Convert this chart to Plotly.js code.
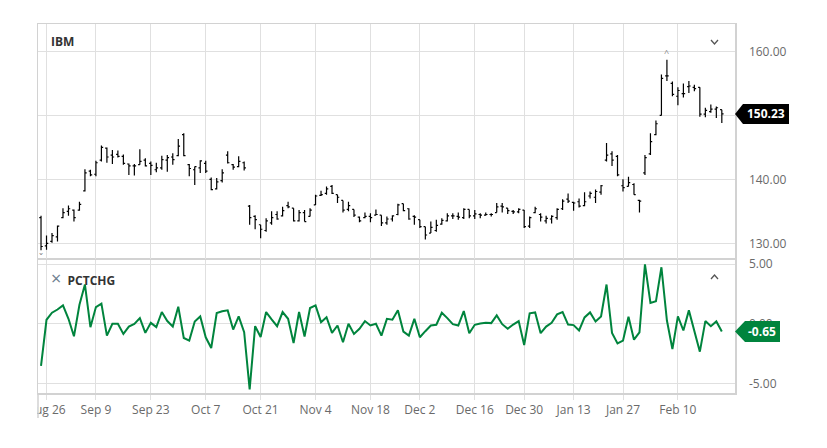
<!DOCTYPE html>
<html>
<head>
<meta charset="utf-8">
<script src="https://cdn.plot.ly/plotly-3.0.1.min.js"></script>
<style>html,body{margin:0;padding:0;background:#fff}#chart{width:827px;height:448px}</style>
</head>
<body>
<div id="chart"></div>
<script>
// ---- data (IBM daily bars, Aug 23 2019 - Feb 21 2020) ----
const dates = [
'2019-08-23','2019-08-26','2019-08-27','2019-08-28','2019-08-29','2019-08-30','2019-09-03','2019-09-04','2019-09-05','2019-09-06',
'2019-09-09','2019-09-10','2019-09-11','2019-09-12','2019-09-13','2019-09-16','2019-09-17','2019-09-18','2019-09-19','2019-09-20',
'2019-09-23','2019-09-24','2019-09-25','2019-09-26','2019-09-27','2019-09-30','2019-10-01','2019-10-02','2019-10-03','2019-10-04',
'2019-10-07','2019-10-08','2019-10-09','2019-10-10','2019-10-11','2019-10-14','2019-10-15','2019-10-16','2019-10-17','2019-10-18',
'2019-10-21','2019-10-22','2019-10-23','2019-10-24','2019-10-25','2019-10-28','2019-10-29','2019-10-30','2019-10-31','2019-11-01',
'2019-11-04','2019-11-05','2019-11-06','2019-11-07','2019-11-08','2019-11-11','2019-11-12','2019-11-13','2019-11-14','2019-11-15',
'2019-11-18','2019-11-19','2019-11-20','2019-11-21','2019-11-22','2019-11-25','2019-11-26','2019-11-27','2019-11-29','2019-12-02',
'2019-12-03','2019-12-04','2019-12-05','2019-12-06','2019-12-09','2019-12-10','2019-12-11','2019-12-12','2019-12-13','2019-12-16',
'2019-12-17','2019-12-18','2019-12-19','2019-12-20','2019-12-23','2019-12-24','2019-12-26','2019-12-27','2019-12-30','2019-12-31',
'2020-01-02','2020-01-03','2020-01-06','2020-01-07','2020-01-08','2020-01-09','2020-01-10','2020-01-13','2020-01-14','2020-01-15',
'2020-01-16','2020-01-17','2020-01-21','2020-01-22','2020-01-23','2020-01-24','2020-01-27','2020-01-28','2020-01-29','2020-01-30',
'2020-01-31','2020-02-03','2020-02-04','2020-02-05','2020-02-06','2020-02-07','2020-02-10','2020-02-11','2020-02-12','2020-02-13',
'2020-02-14','2020-02-18','2020-02-19','2020-02-20','2020-02-21'];

const openP = [
134.0,129.6,130.3,131.0,134.0,135.0,135.2,135.2,138.2,141.3,
140.8,143.0,144.9,143.8,143.9,143.6,142.4,142.1,142.3,143.0,
142.5,141.5,141.8,143.0,143.5,143.7,147.0,142.3,141.5,141.8,
142.5,140.0,138.5,139.8,143.8,142.3,142.0,142.6,135.8,134.2,
132.9,132.0,133.2,134.5,134.3,135.9,135.5,133.5,134.8,134.2,
136.0,137.5,137.8,138.9,137.6,136.7,135.3,135.3,134.1,134.0,
134.2,134.4,134.4,133.2,133.8,134.5,136.2,135.4,134.2,133.7,
132.6,131.6,132.0,133.0,133.5,134.3,134.2,134.0,135.3,134.3,
134.5,134.4,134.5,134.8,135.8,135.5,135.0,134.9,135.2,132.7,
134.8,134.5,133.5,133.8,134.0,135.4,136.9,136.4,136.5,135.9,
137.4,137.2,138.0,143.0,144.0,143.6,139.0,138.9,139.2,136.7,
141.0,144.0,147.0,150.0,156.2,155.0,153.0,153.4,154.5,154.4,
154.4,150.2,150.6,151.0,150.9];

const highP = [
134.3,131.2,131.6,132.8,135.5,135.9,135.3,136.5,141.6,141.5,
142.9,145.3,145.0,144.6,144.5,143.9,142.5,142.4,144.7,143.3,
142.8,142.6,143.7,143.8,144.1,146.3,147.2,142.4,142.0,143.0,
142.9,140.3,140.2,141.6,144.4,142.4,143.6,142.8,136.0,134.4,
132.9,133.9,135.0,135.0,135.7,136.5,135.5,135.2,135.2,135.5,
137.6,138.2,138.9,139.1,137.6,136.7,136.5,135.3,134.2,134.8,
134.7,135.3,134.4,134.2,134.4,136.2,136.2,135.5,134.4,133.7,
132.6,133.4,133.7,133.9,134.7,134.7,134.8,135.5,135.3,135.2,
134.7,134.8,134.7,136.3,136.3,135.5,135.2,135.5,135.2,134.2,
135.7,134.7,134.3,134.4,135.5,136.9,137.8,136.5,137.0,138.0,
138.1,138.4,139.1,145.7,144.4,143.8,140.0,140.4,139.4,136.8,
143.8,147.2,149.2,156.4,158.7,155.3,154.4,155.0,155.4,154.8,
154.4,151.2,151.7,151.4,150.9];

const lowP = [
128.9,129.0,130.1,130.3,133.9,134.3,133.4,135.1,138.1,140.5,
140.5,142.8,142.6,142.4,143.4,142.3,140.7,140.6,142.3,142.0,
140.7,141.1,141.5,141.2,142.3,143.6,143.6,140.5,139.1,141.0,
141.0,138.3,138.4,139.5,142.5,141.5,141.9,141.4,132.9,132.2,
130.8,131.8,132.9,133.7,134.2,135.5,133.4,133.4,133.4,134.2,
136.0,137.4,137.6,137.7,136.3,134.8,135.0,134.1,133.3,133.9,
133.3,134.4,132.7,132.9,133.4,134.4,135.0,133.7,132.9,132.4,
130.6,131.6,131.8,132.9,133.4,133.8,133.7,133.8,133.9,133.8,
133.9,134.3,134.2,134.8,134.8,134.6,134.6,134.7,132.4,132.4,
134.7,133.4,133.1,133.1,133.7,135.2,136.3,135.1,135.6,135.8,
137.0,136.3,137.6,142.8,142.1,140.5,138.1,138.9,137.6,134.8,
140.7,143.8,146.9,150.0,155.4,153.0,151.6,152.8,153.5,153.8,
149.8,149.7,150.4,149.6,148.8];

const closeP = [
129.5,130.0,131.2,132.7,134.8,135.4,134.0,136.1,141.0,140.7,
142.6,145.0,143.5,143.5,143.6,142.5,142.1,142.1,142.8,142.1,
142.2,141.8,143.1,143.4,143.1,145.2,143.7,141.7,142.0,142.9,
141.3,138.4,139.6,141.0,142.6,141.9,142.8,141.8,134.0,133.7,
132.2,133.5,134.0,133.8,135.1,135.7,133.5,134.8,133.4,135.2,
137.4,137.6,138.5,137.8,137.2,135.2,135.9,134.4,133.5,134.2,
134.0,134.5,133.2,133.8,134.3,136.0,135.1,133.8,134.1,132.6,
131.3,132.5,132.8,133.6,134.3,134.3,134.1,135.3,134.3,134.6,
134.4,134.5,134.5,135.7,135.7,135.1,134.9,135.3,132.6,134.0,
135.4,134.1,133.9,134.2,135.3,136.6,136.6,136.3,135.8,136.5,
137.8,138.1,139.0,143.8,143.0,140.7,138.7,139.5,137.6,136.6,
143.4,145.9,148.7,155.8,156.2,153.3,153.9,153.4,154.6,154.2,
150.2,150.8,151.0,151.2,150.23];

const pctChg = [
-3.53,0.34,0.93,1.2,1.55,0.42,-1.05,1.6,3.3,-0.28,
1.41,1.7,-0.99,0,0,-0.85,-0.23,0,0.48,-0.76,
0.08,-0.28,0.99,0.23,-0.23,1.44,-1.19,-1.41,0.2,0.62,
-1.13,-2.03,0.9,1.05,1.13,-0.48,0.62,-0.71,-5.5,-0.2,
-1.1,0.99,0.37,-0.2,0.99,0.42,-1.61,0.99,-1.07,1.33,
1.55,0.14,0.56,-0.76,-0.14,-1.55,0,-0.85,-0.42,0.23,
-0.14,0,-0.99,0.42,0.34,1.13,-0.65,-0.99,0.42,-1.13,
-0.62,-0.14,-0.08,0.93,0.48,-0.03,-0.14,1.07,-0.79,-0.08,
0.03,0.08,0.06,0.71,-0.03,-0.42,-0.06,0.23,-1.78,0.88,
0.96,-0.79,-0.23,0.08,0.79,0.99,-0.06,-0.11,-0.56,0.54,
0.96,0.2,0.62,3.3,-0.76,-1.64,-1.41,0.59,-1.33,-0.71,
5.0,1.75,1.89,4.75,0.28,-2.12,0.62,-0.56,1.13,-0.56,
-2.34,0.23,-0.2,0.2,-0.65];

const tickDates  = ['2019-08-26','2019-09-09','2019-09-23','2019-10-07','2019-10-21','2019-11-04','2019-11-18','2019-12-02','2019-12-16','2019-12-30','2020-01-13','2020-01-27','2020-02-10'];
const tickLabels = ['Aug 26','Sep 9','Sep 23','Oct 7','Oct 21','Nov 4','Nov 18','Dec 2','Dec 16','Dec 30','Jan 13','Jan 27','Feb 10'];
const priceTicks = [130, 140, 150, 160];
const priceTickText = ['130.00', '140.00', '', '160.00'];   // 150.00 sits under the price tag
const pctTicks = [-5, 0, 5];
const pctTickText = ['-5.00', '0.00', '5.00'];
const symbol = 'IBM';
const studyName = 'PCTCHG';

// ---- layout helpers ----
const W = 827, H = 448, ML = 38, MR = 92, MT = 24, MB = 55;
const PW = W - ML - MR, PH = H - MT - MB;
const px = x => (x - ML) / PW;
const py = y => (H - MB - y) / PH;

const GREEN = '#00843d';
const GRID = '#e0e0e0';
const BORDER = '#d2d2d2';
const FONT = '"Open Sans", "Noto Sans", sans-serif';

const n = dates.length;
const lastClose = closeP[n - 1];
const lastPct = pctChg[n - 1];
let iMax = 0, iMin = 0;
for (let i = 1; i < n; i++) {
  if (highP[i] > highP[iMax]) iMax = i;
  if (lowP[i] < lowP[iMin]) iMin = i;
}

const traces = [
  {
    type: 'ohlc', x: dates, open: openP, high: highP, low: lowP, close: closeP,
    xaxis: 'x', yaxis: 'y',
    increasing: {line: {color: '#000', width: 1.2}},
    decreasing: {line: {color: '#000', width: 1.2}},
    tickwidth: 0.32, hoverinfo: 'skip', showlegend: false
  },
  {
    type: 'scatter', mode: 'lines', x: dates, y: pctChg,
    xaxis: 'x', yaxis: 'y2',
    line: {color: GREEN, width: 2}, hoverinfo: 'skip', showlegend: false
  }
];

const yDomTop = [py(258), 1];
const yDomBot = [0, py(260)];

const layout = {
  width: W, height: H,
  margin: {l: ML, r: MR, t: MT, b: MB, pad: 0},
  paper_bgcolor: '#fff', plot_bgcolor: '#fff',
  font: {family: FONT, size: 12, color: '#666'},
  showlegend: false,
  xaxis: {
    type: 'category', anchor: 'y2',
    range: [-0.55, 126.4],
    tickmode: 'array', tickvals: tickDates, ticktext: tickLabels,
    showgrid: true, gridcolor: GRID, gridwidth: 1,
    ticks: 'outside', ticklen: 5, tickcolor: GRID, tickwidth: 1,
    showline: true, linecolor: BORDER, linewidth: 1.5, mirror: 'all',
    zeroline: false, rangeslider: {visible: false},
    tickfont: {family: FONT, size: 12, color: '#6a6a6a'}
  },
  yaxis: {
    domain: yDomTop, side: 'right', range: [127.7, 164.3],
    tickmode: 'array', tickvals: priceTicks, ticktext: priceTickText,
    showgrid: true, gridcolor: GRID, gridwidth: 1.3,
    ticks: '', ticklabelstandoff: 10,
    showline: true, linecolor: BORDER, linewidth: 1.5, mirror: true,
    zeroline: false,
    tickfont: {family: FONT, size: 12, color: '#6a6a6a'}
  },
  yaxis2: {
    domain: yDomBot, side: 'right', range: [-5.81, 5.36],
    tickmode: 'array', tickvals: pctTicks, ticktext: pctTickText,
    showgrid: true, gridcolor: GRID, gridwidth: 1.3,
    ticks: '', ticklabelstandoff: 10,
    showline: true, linecolor: BORDER, linewidth: 1.5, mirror: true,
    zeroline: false,
    tickfont: {family: FONT, size: 12, color: '#6a6a6a'}
  },
  shapes: [
    // clip of the first date label at the plot's left edge
    {type: 'rect', xref: 'paper', yref: 'paper', x0: px(0), x1: px(37.2), y0: py(440), y1: py(394),
     fillcolor: '#fff', line: {width: 0}, layer: 'above'},
    // left border running down past the labels
    {type: 'line', xref: 'paper', yref: 'paper', x0: px(38), x1: px(38), y0: py(393), y1: py(418),
     line: {color: BORDER, width: 1.5}, layer: 'above'},
    // last price tag
    {type: 'path', xref: 'paper', yref: 'y', xsizemode: 'pixel', ysizemode: 'pixel',
     xanchor: 1, yanchor: lastClose,
     path: 'M0,0 L8,10 L54,10 L54,-10 L8,-10 Z',
     fillcolor: '#000', line: {width: 0}, layer: 'above'},
    // last pct tag
    {type: 'path', xref: 'paper', yref: 'y2', xsizemode: 'pixel', ysizemode: 'pixel',
     xanchor: 1, yanchor: lastPct,
     path: 'M0,0 L10,10.5 L45,10.5 L45,-10.5 L10,-10.5 Z',
     fillcolor: GREEN, line: {width: 0}, layer: 'above'},
    // panel chevrons
    {type: 'path', xref: 'paper', yref: 'paper', xsizemode: 'pixel', ysizemode: 'pixel',
     xanchor: px(714.5), yanchor: py(42),
     path: 'M-3.5,2 L0,-2 L3.5,2', line: {color: '#555', width: 1.3}, layer: 'above'},
    {type: 'path', xref: 'paper', yref: 'paper', xsizemode: 'pixel', ysizemode: 'pixel',
     xanchor: px(714.5), yanchor: py(277),
     path: 'M-3.5,-2 L0,2 L3.5,-2', line: {color: '#555', width: 1.3}, layer: 'above'}
  ],
  annotations: [
    {xref: 'paper', yref: 'paper', x: 0, y: 1, xanchor: 'left', yanchor: 'top', xshift: 11, yshift: -7,
     text: '<b>' + symbol + '</b>', showarrow: false, font: {family: FONT, size: 12, color: '#333'}},
    {xref: 'paper', yref: 'paper', x: 0, y: yDomBot[1], xanchor: 'left', yanchor: 'top', xshift: 11, yshift: -4,
     text: '<span style="color:#6e7f90;font-size:18px">×</span>  <b>' + studyName + '</b>', showarrow: false,
     font: {family: FONT, size: 12, color: '#333'}},
    {xref: 'paper', yref: 'y', x: 1, y: lastClose, xanchor: 'left', yanchor: 'middle', xshift: 10,
     text: '<b>' + lastClose.toFixed(2) + '</b>', showarrow: false, font: {family: FONT, size: 12, color: '#fff'}},
    {xref: 'paper', yref: 'y2', x: 1, y: lastPct, xanchor: 'left', yanchor: 'middle', xshift: 11,
     text: '<b>' + lastPct.toFixed(2) + '</b>', showarrow: false, font: {family: FONT, size: 12, color: '#fff'}},
    {xref: 'x', yref: 'y', x: dates[iMax], y: highP[iMax], yanchor: 'bottom', yshift: -1,
     text: '^', showarrow: false, font: {family: FONT, size: 9, color: '#888'}},
    {xref: 'x', yref: 'y', x: dates[iMin], y: lowP[iMin], yanchor: 'top', yshift: 1,
     text: 'ˇ', showarrow: false, font: {family: FONT, size: 10, color: '#888'}}
  ]
};

Plotly.newPlot('chart', traces, layout, {staticPlot: true, displayModeBar: false});
</script>
</body>
</html>
